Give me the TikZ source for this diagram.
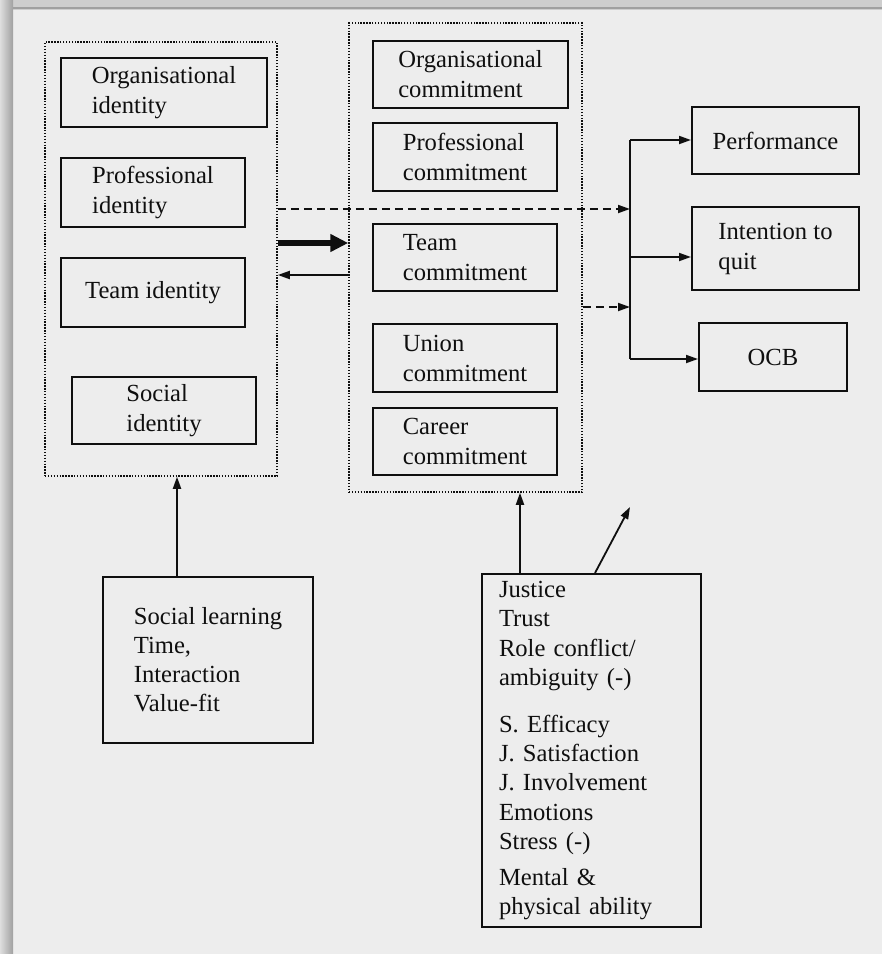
\documentclass[tikz,border=0pt]{standalone}
\usepackage{fontspec}
\setmainfont{Liberation Serif}
\usepackage{tikz}
\usetikzlibrary{arrows.meta, positioning, calc}
\definecolor{inkblack}{RGB}{15,15,15}
\definecolor{paperbg}{RGB}{237,237,237}
\definecolor{framegray}{RGB}{206,206,206}
\definecolor{framedark}{RGB}{160,160,160}
\definecolor{framelight}{RGB}{222,222,222}

\begin{document}
\begin{tikzpicture}[
  x=1pt, y=-1pt,
  font=\fontsize{24.6}{30}\selectfont,
  box/.style={rectangle, draw=inkblack, line width=2pt, align=left, inner sep=0pt, text=inkblack},
  groupbox/.style={rectangle, draw=inkblack, line width=1.5pt, dash pattern=on 1.4pt off 1.5pt, inner sep=0pt},
  arrow/.style={-{Triangle[length=12pt, width=8pt]}, line width=1.8pt, draw=inkblack},
  dasharrow/.style={arrow, dash pattern=on 8pt off 5pt},
  bigarrow/.style={-{Triangle[length=18pt, width=17pt]}, line width=5.5pt, draw=inkblack}
]

% Scanned page and its frame
\useasboundingbox (0,0) rectangle (882,954);
\fill[paperbg] (0,0) rectangle (882,954);
\fill[framegray] (0,0) rectangle (882,10);
\draw[framedark, line width=2pt] (0,8) -- (882,8);
\shade[left color=framelight, right color=framedark] (0,0) rectangle (13,954);

% Identities (left group)
\node[groupbox, minimum width=232pt, minimum height=434pt] (idgroup) at (161,259) {};
\node[box, minimum width=206pt, minimum height=69pt] (orgid) at (164,92.5) {Organisational\\identity};
\node[box, minimum width=184pt, minimum height=69pt] (profid) at (153,192.5) {Professional\\identity};
\node[box, minimum width=184pt, minimum height=69pt] (teamid) at (153,292.5) {Team identity};
\node[box, minimum width=184pt, minimum height=67pt] (socid) at (164,410.5) {Social\\identity};

% Commitments (middle group)
\node[groupbox, minimum width=233pt, minimum height=469pt] (comgrp) at (465.5,257.5) {};
\node[box, minimum width=195pt, minimum height=67pt] (orgcom) at (470.5,74.5) {Organisational\\commitment};
\node[box, minimum width=184pt, minimum height=68pt] (profcom) at (465,157) {Professional\\commitment};
\node[box, minimum width=184pt, minimum height=67pt] (teamcom) at (465,257.5) {Team\\commitment};
\node[box, minimum width=184pt, minimum height=68pt] (unioncom) at (465,358) {Union\\commitment};
\node[box, minimum width=184pt, minimum height=67pt] (careercom) at (465,441.5) {Career\\commitment};

% Outcomes
\node[box, minimum width=167pt, minimum height=67pt] (perf) at (775.5,140.5) {Performance};
\node[box, minimum width=167pt, minimum height=83pt] (quit) at (775.5,248.5) {Intention to\\quit};
\node[box, minimum width=148pt, minimum height=68pt] (ocb) at (773,357) {OCB};

% Antecedents
\node[box, minimum width=210pt, minimum height=166pt, font=\fontsize{24.6}{29}\selectfont] (learn) at (208,660)
  {Social learning\\Time,\\Interaction\\Value-fit};
\node[box, text width=185pt, inner xsep=17pt, minimum height=353pt, font=\fontsize{24.6}{29.3}\selectfont] (justice) at (591.5,750.5)
  {Justice\\Trust\\Role conflict/\\ambiguity (-)\\[17.5pt]
   S. Efficacy\\J. Satisfaction\\J. Involvement\\Emotions\\Stress (-)\\[6.5pt]
   Mental \&\\physical ability};

\coordinate (bartop) at (630,140);
\coordinate (barbot) at (630,359);
\coordinate (dashin1) at (630,209);
\coordinate (dashin2) at (630,307);
\coordinate (learnout) at ([xshift=-31pt]learn.north);
\coordinate (justout) at ([xshift=-71.5pt]justice.north);
\coordinate (diagout) at ([xshift=3.5pt]justice.north);
\coordinate (diagtip) at (630,507);

% Identity <-> commitment
\draw[bigarrow] ([yshift=16pt]idgroup.east) -- ([yshift=16pt]idgroup.east -| comgrp.west);
\draw[arrow] ([yshift=-17.5pt]comgrp.west) -- ([yshift=-17.5pt]comgrp.west -| idgroup.east);

% Links to the outcomes
\draw[dasharrow] (idgroup.east |- dashin1) -- (dashin1);
\draw[dasharrow] (comgrp.east |- dashin2) -- (dashin2);
\draw[line width=1.8pt, draw=inkblack] (bartop) -- (barbot);
\draw[arrow] (bartop) -- (bartop -| perf.west);
\draw[arrow] ([yshift=-8.5pt]quit.west -| bartop) -- ([yshift=-8.5pt]quit.west);
\draw[arrow] (barbot) -- (barbot -| ocb.west);

% Antecedent arrows
\draw[arrow] (learnout) -- (learnout |- idgroup.south);
\draw[arrow] (justout) -- (justout |- comgrp.south);
\draw[arrow] (diagout) -- (diagtip);

\end{tikzpicture}
\end{document}
